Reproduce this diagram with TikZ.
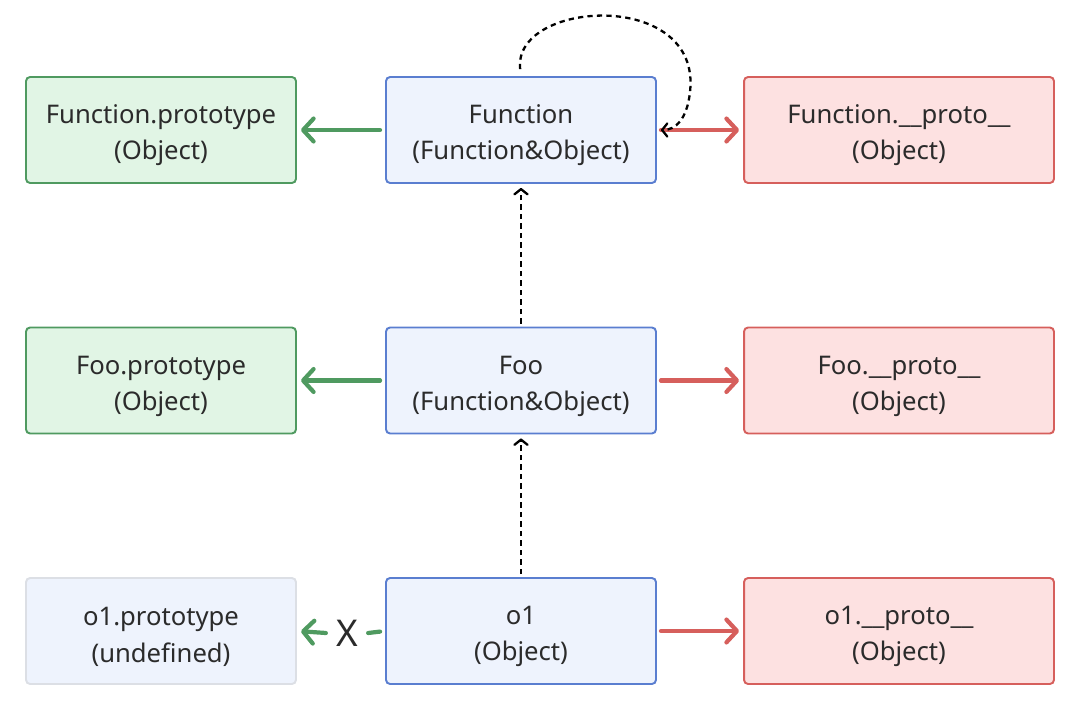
\documentclass[tikz,border=0pt]{standalone}
\usepackage{fontspec}
\setmainfont{Noto Sans}
\usetikzlibrary{arrows.meta}

\definecolor{txtgray}{HTML}{2B2B2B}
\definecolor{grnfill}{HTML}{E1F5E5}
\definecolor{grnline}{HTML}{4F9A60}
\definecolor{blufill}{HTML}{EEF3FD}
\definecolor{bluline}{HTML}{5A7ED0}
\definecolor{redfill}{HTML}{FDE1E1}
\definecolor{redline}{HTML}{D65F5C}
\definecolor{gryline}{HTML}{DCDFE5}

% two lines, pushed a little below the middle of the box
\newcommand{\boxlines}[2]{\rule{0pt}{17pt}#1\\#2}

\begin{document}
\begin{tikzpicture}[x=0.02cm,y=-0.02cm,
  box/.style={draw,rounded corners=2.3pt,line width=1.1pt,minimum height=2.12cm,inner sep=2pt,
    align=center,text=txtgray,font=\fontsize{14.6}{20.6}\selectfont},
  protobox/.style={box,fill=grnfill,draw=grnline,minimum width=5.4cm},
  objbox/.style={box,fill=blufill,draw=bluline,minimum width=5.4cm},
  linkbox/.style={box,fill=redfill,draw=redline,minimum width=6.2cm},
  nullbox/.style={box,fill=blufill,draw=gryline,minimum width=5.4cm},
  greenarrow/.style={draw=grnline,line width=2.4pt,line cap=round,
    -{Straight Barb[length=6pt,width=13pt,line join=round,line cap=round]}},
  redarrow/.style={draw=redline,line width=2.4pt,line cap=round,
    -{Straight Barb[length=6pt,width=13pt,line join=round,line cap=round]}},
  ctorlink/.style={draw=black,line width=1.3pt,dash pattern=on 3pt off 2.4pt,
    -{Straight Barb[length=3pt,width=7.5pt,line join=round,line cap=round]}}]
\useasboundingbox (0,0) rectangle (1080,710);

% top row
\node[protobox] (fnproto) at (161,130) {\boxlines{Function.prototype}{(Object)}};
\node[objbox] (fn) at (521,130) {\boxlines{Function}{(Function\&Object)}};
\node[linkbox] (fnlink) at (899,130) {\boxlines{Function.\_\_proto\_\_}{(Object)}};

% middle row
\node[protobox] (fooproto) at (161,380.5) {\boxlines{Foo.prototype}{(Object)}};
\node[objbox] (foo) at (521,380.5) {\boxlines{Foo}{(Function\&Object)}};
\node[linkbox] (foolink) at (899,380.5) {\boxlines{Foo.\_\_proto\_\_}{(Object)}};

% bottom row
\node[nullbox] (oproto) at (161,631) {\boxlines{o1.prototype}{(undefined)}};
\node[objbox] (obj) at (521,631) {\boxlines{o1}{(Object)}};
\node[linkbox] (olink) at (899,631) {\boxlines{o1.\_\_proto\_\_}{(Object)}};
\node[text=txtgray,font=\fontsize{21}{21}\selectfont,inner xsep=0.2cm,inner ysep=0pt] (xmark) at (347,633) {X};

\draw[greenarrow,shorten <=0.1cm,shorten >=0.08cm] (fn) -- (fnproto);
\draw[redarrow,shorten <=0.08cm,shorten >=0.08cm] (fn) -- (fnlink);
\draw[greenarrow,shorten <=0.1cm,shorten >=0.08cm] (foo) -- (fooproto);
\draw[redarrow,shorten <=0.08cm,shorten >=0.08cm] (foo) -- (foolink);
\draw[redarrow,shorten <=0.08cm,shorten >=0.08cm] (obj) -- (olink);
\draw[draw=grnline,line width=2.4pt,line cap=round,shorten <=0.1cm] (obj.west) -- (xmark.east);
\draw[greenarrow,shorten >=0.08cm] (xmark.west) -- (oproto.east);

\draw[ctorlink,shorten <=0.06cm,shorten >=0.08cm] (obj) -- (foo);
\draw[ctorlink,shorten <=0.06cm,shorten >=0.08cm] (foo) -- (fn);
\draw[ctorlink,shorten <=0.14cm,shorten >=0.08cm] (fn.north) .. controls (512,0) and (702,-12) .. (690,92)
  .. controls (687,120) and (675,130) .. (fn.east);
\end{tikzpicture}
\end{document}
